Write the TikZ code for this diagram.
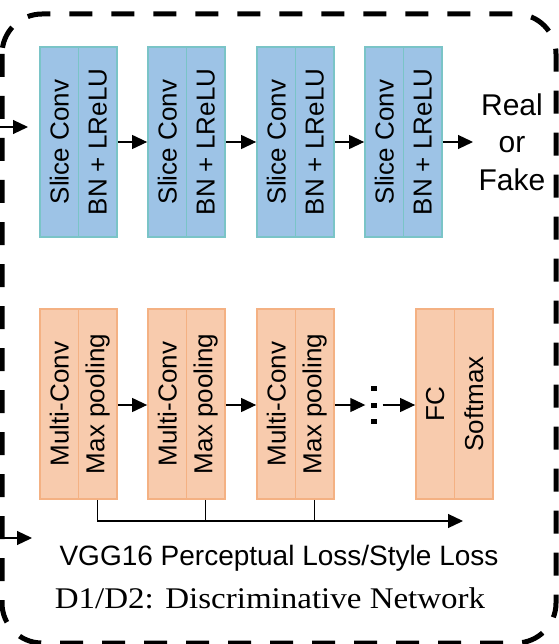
\documentclass[tikz,border=0pt]{standalone}
\usepackage{fontspec}
\setmainfont{Liberation Sans}
\newfontfamily\capfont{Liberation Serif}
\usetikzlibrary{arrows.meta}

\definecolor{blockblue}{HTML}{9DC3E6}
\definecolor{blockteal}{HTML}{7AC4C7}
\definecolor{blockorange}{HTML}{F8CBAD}
\definecolor{edgeorange}{HTML}{F4B183}

\tikzset{
	half/.style={rectangle, inner sep=0pt, minimum width=38.5pt, minimum height=190pt,
		line width=1.8pt, font=\fontsize{26}{30}\selectfont},
	bluehalf/.style={half, draw=blockteal, fill=blockblue},
	orangehalf/.style={half, draw=edgeorange, fill=blockorange},
	arr/.style={line width=1.2pt, -{Triangle[length=15pt,width=14pt]}},
}

\begin{document}
\begin{tikzpicture}[x=1pt,y=-1pt]
		\useasboundingbox (0,0) rectangle (558,644);
		% dashed frame
		\draw[line width=5pt, dash pattern=on 23pt off 19pt, rounded corners=40pt] (2,14) rectangle (556,643);
		% discriminator blocks
		\node[bluehalf] (sc1) at (59.25,142) {\rotatebox{90}{Slice Conv}};
		\node[bluehalf] (bn1) at (97.75,142) {\rotatebox{90}{BN + LReLU}};
		\node[bluehalf] (sc2) at (167.25,142) {\rotatebox{90}{Slice Conv}};
		\node[bluehalf] (bn2) at (205.75,142) {\rotatebox{90}{BN + LReLU}};
		\node[bluehalf] (sc3) at (276.25,142) {\rotatebox{90}{Slice Conv}};
		\node[bluehalf] (bn3) at (314.75,142) {\rotatebox{90}{BN + LReLU}};
		\node[bluehalf] (sc4) at (384.25,142) {\rotatebox{90}{Slice Conv}};
		\node[bluehalf] (bn4) at (422.75,142) {\rotatebox{90}{BN + LReLU}};
		\node[align=center, font=\fontsize{30}{37.5}\selectfont] (out) at (512,142) {Real\\or\\Fake};
		\coordinate (in1) at (0,127);
		\coordinate (in1e) at (28,127);
		\draw[arr] (in1) -- (in1e);
		\draw[arr] (bn1) -- (sc2);
		\draw[arr] (bn2) -- (sc3);
		\draw[arr] (bn3) -- (sc4);
		\draw[arr] (bn4.east) -- (473,142);
		% vgg16 blocks
		\node[orangehalf] (mc1) at (59.25,404) {\rotatebox{90}{Multi-Conv}};
		\node[orangehalf] (mp1) at (97.75,404) {\rotatebox{90}{Max pooling}};
		\node[orangehalf] (mc2) at (167.25,404) {\rotatebox{90}{Multi-Conv}};
		\node[orangehalf] (mp2) at (205.75,404) {\rotatebox{90}{Max pooling}};
		\node[orangehalf] (mc3) at (276.25,404) {\rotatebox{90}{Multi-Conv}};
		\node[orangehalf] (mp3) at (314.75,404) {\rotatebox{90}{Max pooling}};
		\node[orangehalf] (fc) at (435.25,404) {\rotatebox{90}{FC}};
		\node[orangehalf] (sm) at (473.75,404) {\rotatebox{90}{Softmax}};
		\node[inner sep=0pt, minimum width=17pt, minimum height=40pt] (dots) at (374,405) {};
		\fill (371.3,385.5) rectangle (376.7,390.5);
		\fill (371.3,402.5) rectangle (376.7,407.5);
		\fill (371.3,418.5) rectangle (376.7,423.5);
		\draw[arr] (mp1.east |- 0,405) -- (mc2.west |- 0,405);
		\draw[arr] (mp2.east |- 0,405) -- (mc3.west |- 0,405);
		\draw[arr] (mp3.east |- 0,405) -- (dots.west);
		\draw[arr] (dots.east) -- (fc.west |- 0,405);
		% loss branch
		\coordinate (lossend) at (463,521);
		\draw[arr] (mp1.south) |- (lossend);
		\draw[line width=1.2pt] (mp2.south) -- (mp2.south |- lossend);
		\draw[line width=1.2pt] (mp3.south) -- (mp3.south |- lossend);
		\coordinate (in2) at (0,538);
		\coordinate (in2e) at (32,538);
		\draw[arr] (in2) -- (in2e);
		\node[anchor=base, font=\fontsize{28}{32}\selectfont] (loss) at (279,565) {VGG16 Perceptual Loss/Style Loss};
		\node[anchor=base, font=\capfont\fontsize{30}{34}\selectfont] (cap) at (270,608) {\scalebox{1.1}[1]{D1/D2:\hspace{0.35em}Discriminative Network}};
\end{tikzpicture}
\end{document}
